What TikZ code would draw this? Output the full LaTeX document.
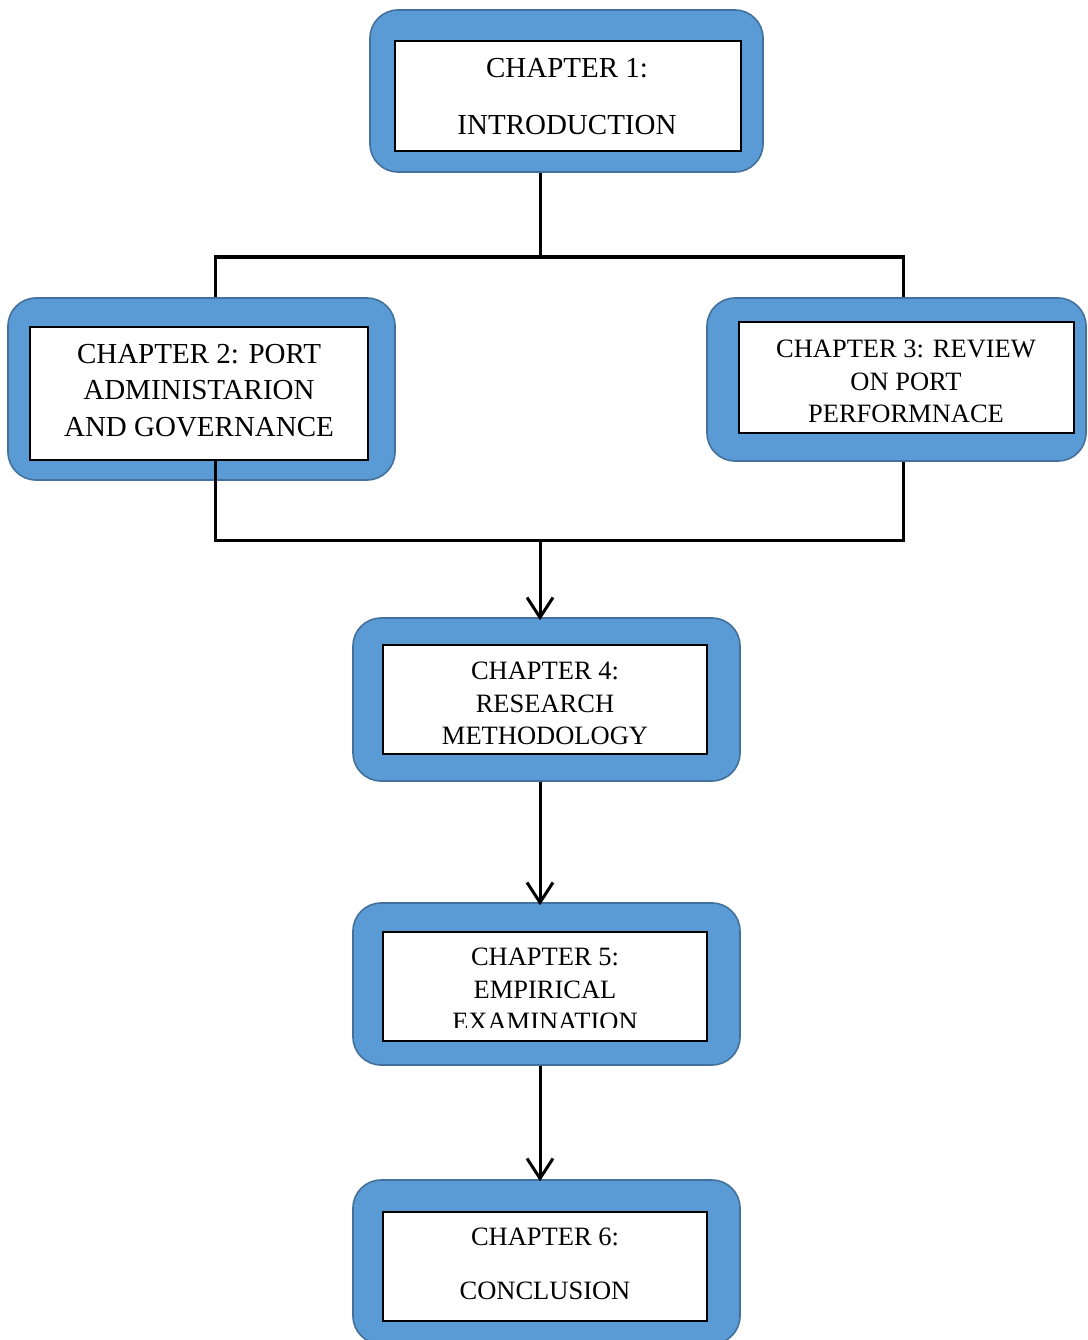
\documentclass[tikz,border=0pt]{standalone}
\usepackage{fontspec}
\setmainfont{Liberation Serif}
\usetikzlibrary{arrows.meta}
\definecolor{frameblue}{HTML}{5B9BD5}
\definecolor{frameedge}{HTML}{41719C}
\tikzset{
  frame/.style={draw=frameedge, line width=1.6pt, fill=frameblue, rounded corners=28pt, inner sep=0pt},
  inbox/.style={draw=black, line width=1.3pt, fill=white, inner sep=0pt},
  big/.style={align=center, inner sep=0pt, font=\fontsize{29}{36.5}\selectfont},
  small/.style={align=center, inner sep=0pt, font=\fontsize{26.5}{32.5}\selectfont},
  conn/.style={line width=3pt, draw=black},
  arr/.style={conn, -{Straight Barb[length=20pt,width=26pt,line width=3pt]}}
}
\begin{document}
\begin{tikzpicture}[x=1pt,y=-1pt]
\useasboundingbox (0,0) rectangle (1087,1340);
\clip (0,0) rectangle (1087,1340);
% frames
\node[frame, minimum width=393pt, minimum height=162pt] (b1) at (566.5,91) {};
\node[frame, minimum width=387pt, minimum height=182pt] (b2) at (201.5,389) {};
\node[frame, minimum width=379pt, minimum height=163pt] (b3) at (896.5,379.5) {};
\node[frame, minimum width=387pt, minimum height=163pt] (b4) at (546.5,699.5) {};
\node[frame, minimum width=387pt, minimum height=162pt] (b5) at (546.5,984) {};
\node[frame, minimum width=387pt, minimum height=164pt] (b6) at (546.5,1262) {};
% connector coordinates
\coordinate (j) at (540,257);
\coordinate (jl) at (215,257);
\coordinate (jr) at (903,257);
\coordinate (k) at (540,540);
\coordinate (kl) at (215,540);
\coordinate (kr) at (903,540);
% inner boxes
\node[inbox, minimum width=346pt, minimum height=110pt] (t1) at (568,96) {};
\node[inbox, minimum width=338pt, minimum height=133pt] (t2) at (199,393.5) {};
\node[inbox, minimum width=335pt, minimum height=111pt] (t3) at (906.5,377.5) {};
\node[inbox, minimum width=324pt, minimum height=109pt] (t4) at (545,699.5) {};
\node[inbox, minimum width=324pt, minimum height=109pt] (t5) at (545,986.5) {};
\node[inbox, minimum width=324pt, minimum height=109pt] (t6) at (545,1266.5) {};
% texts
\node[big, font=\fontsize{29}{57}\selectfont] (l1) at (567,96.5) {CHAPTER 1:\\INTRODUCTION};
\node[big] (l2) at (199,390.5) {CHAPTER 2: PORT\\ADMINISTARION\\AND GOVERNANCE};
\node[small] (l3) at (906,381.5) {CHAPTER 3: REVIEW\\ON PORT\\PERFORMNACE};
\node[small] (l4) at (545,703.5) {CHAPTER 4:\\RESEARCH\\METHODOLOGY};
\begin{scope}
\clip (383,932) rectangle (707,1027.5);
\node[small] (l5) at (545,989.5) {CHAPTER 5:\\EMPIRICAL\\EXAMINATION};
\end{scope}
\node[small, font=\fontsize{26.5}{54}\selectfont] (l6) at (545,1264) {CHAPTER 6:\\CONCLUSION};
% connectors
\draw[conn] (b1.south -| j) -- (j);
\draw[conn] (b2.north -| jl) -- (jl) -- (jr) -- (b3.north -| jr);
\draw[conn] (t2.south -| kl) -- (kl) -- (kr) -- (b3.south -| kr);
\draw[arr] (k) -- ([yshift=-3pt]b4.north -| k);
\draw[arr] (b4.south -| k) -- ([yshift=-3pt]b5.north -| k);
\draw[arr] (b5.south -| k) -- ([yshift=-2pt]b6.north -| k);
\end{tikzpicture}
\end{document}
